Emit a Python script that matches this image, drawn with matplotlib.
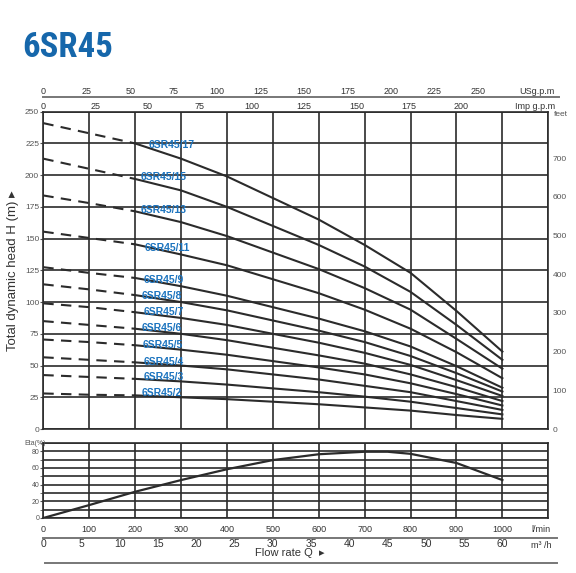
import matplotlib
matplotlib.use("Agg")
import matplotlib.pyplot as plt
import numpy as np

plt.rcParams['font.family'] = ['Liberation Sans', 'DejaVu Sans']

# flow rate points (l/min) where the heads were read
flow = [0, 100, 200, 300, 400, 500, 600, 700, 800, 900, 1000]

# head (m) for each model
models = ['6SR45/17', '6SR45/15', '6SR45/13', '6SR45/11', '6SR45/9', '6SR45/8',
          '6SR45/7', '6SR45/6', '6SR45/5', '6SR45/4', '6SR45/3', '6SR45/2']
heads = [
    [241, 233, 225, 213, 199, 182, 165, 145, 123, 93, 61],
    [213, 205, 197, 188, 175, 160, 145, 128, 108, 82, 54.5],
    [184, 178, 171.5, 163, 152, 139, 126, 111, 94, 71, 47.5],
    [155.5, 150.5, 145.5, 137.5, 129, 118, 107, 94, 79, 60.5, 40],
    [127.5, 123, 119, 112.5, 105, 96, 87, 77, 65, 49.5, 32.5],
    [114, 110, 105.5, 100, 93.5, 85.5, 77.5, 68.5, 57.5, 44, 29.5],
    [99, 96, 92, 87.5, 82, 75, 68, 60, 50.5, 38.5, 26],
    [85, 82, 79, 75, 70, 64, 58, 51.5, 43, 33, 22],
    [70.5, 68.5, 66, 62.5, 58.5, 53.5, 48.5, 43, 36, 27.5, 18.5],
    [56.5, 54.5, 52.5, 50, 47, 43, 39, 34, 29, 22, 15],
    [42.5, 41, 39.5, 37.5, 35, 32, 29, 25.5, 21.5, 16.5, 11.5],
    [28, 27, 26.5, 25, 23.5, 21.5, 19.5, 17, 14.5, 11, 8],
]
# where the model names sit (l/min, m)
label_q = [230, 212, 212, 221, 219, 214, 219, 214, 216, 218, 219, 214]
label_h = [224, 198.6, 172.4, 142.9, 117.5, 105, 92.5, 79.4, 66, 52.8, 41, 28]

# efficiency curve
eta_flow = [0, 100, 200, 300, 400, 500, 600, 700, 750, 800, 900, 1000]
eta = [0, 15.5, 31.5, 45.5, 58.5, 69.5, 76.5, 79.5, 79.5, 77, 66, 45.5]

head_ticks = list(range(0, 251, 25))
feet_ticks = list(range(0, 701, 100))
imp_ticks = list(range(0, 201, 25))
us_ticks = list(range(0, 251, 25))
lmin_ticks = list(range(0, 1001, 100))
m3h_ticks = list(range(0, 61, 5))
eta_ticks = list(range(0, 81, 20))

M_TO_FT = 3.28084
L_PER_IMP = 4.54609
L_PER_US = 3.78541
L_PER_M3H = 1000 / 60.0

dark = '#2b2b2b'
grey = '#555555'
blue = '#1c74bf'

fig = plt.figure(figsize=(5.76, 5.73), dpi=100)
W, H = 576.0, 573.0

# title
fig.text(22 / W, 1 - 57 / H, '6SR45', fontsize=25, fontweight='bold',
         color='#1667ab',
         family=['Roboto Condensed', 'Liberation Sans Narrow',
                 'Liberation Sans', 'DejaVu Sans'],
         va='baseline', ha='left')

# ---- main head chart ----
ax = fig.add_axes([43.3 / W, 1 - 429 / H, 505 / W, 317.3 / H])
ax.set_xlim(0, 1100)
ax.set_ylim(0, 250)
ax.set_xticks(range(0, 1101, 100))
ax.set_yticks(head_ticks)
ax.grid(True, color=dark, lw=1.2)
ax.tick_params(axis='x', length=0, labelbottom=False)
ax.tick_params(axis='y', length=2, labelsize=6, colors=grey, pad=1)
for s in ax.spines.values():
    s.set_color(dark)
    s.set_linewidth(1.2)

for name, h, lq, lh in zip(models, heads, label_q, label_h):
    ax.plot(flow[:3], h[:3], color=dark, lw=1.5, ls=(0, (5, 3.5)))
    ax.plot(flow[2:], h[2:], color=dark, lw=1.5)
    ax.text(lq, lh, name, color=blue, fontsize=7.5, fontweight='bold',
            ha='left', va='center')

ax.set_ylabel('Total dynamic head H (m) \u25b8', fontsize=9.5, color='#333333',
              labelpad=4)

# feet on the right
axr = ax.twinx()
axr.set_ylim(0, 250 * M_TO_FT)
axr.set_yticks(feet_ticks)
axr.tick_params(axis='y', length=0, labelsize=6, colors=grey, pad=3)
for s in axr.spines.values():
    s.set_visible(False)
ax.text(1.012, 0.99, 'feet', transform=ax.transAxes, fontsize=6, color=grey,
        ha='left', va='center')

# Imp g.p.m on top
imp = ax.secondary_xaxis('top', functions=(lambda q: q / L_PER_IMP,
                                           lambda g: g * L_PER_IMP))
imp.set_xticks(imp_ticks)
imp.tick_params(length=0, pad=0.5, labelsize=6.5, colors='#333333')
imp.spines['top'].set_visible(False)
ax.text(1.013, 1.003, 'Imp g.p.m', transform=ax.transAxes, fontsize=6.5,
        color='#333333', ha='right', va='bottom')

# US g.p.m above it
us = ax.secondary_xaxis(1.046, functions=(lambda q: q / L_PER_US,
                                          lambda g: g * L_PER_US))
us.set_xticks(us_ticks)
us.tick_params(length=0, pad=0.5, labelsize=6.5, colors='#333333')
us.spines['top'].set_visible(False)
ax.plot([0, 1.022], [1.046, 1.046], transform=ax.transAxes, clip_on=False,
        color='#777777', lw=1.4)
ax.text(1.013, 1.049, 'USg.p.m', transform=ax.transAxes, fontsize=6.5,
        color='#333333', ha='right', va='bottom')

# ---- efficiency chart ----
axe = fig.add_axes([43.3 / W, 1 - 518 / H, 505 / W, 75 / H])
axe.set_xlim(0, 1100)
axe.set_ylim(0, 90)
axe.set_xticks(lmin_ticks)
axe.set_xticks([1100], minor=True)
axe.set_yticks(eta_ticks)
axe.set_yticks(range(10, 91, 10), minor=True)
axe.grid(True, which='both', color=dark, lw=1.2)
axe.tick_params(axis='x', which='both', length=0, labelsize=6.5,
                colors='#333333', pad=5)
axe.tick_params(axis='y', which='both', length=2, labelsize=5, colors=grey,
                pad=1)
for s in axe.spines.values():
    s.set_color(dark)
    s.set_linewidth(1.2)
axe.plot(eta_flow, eta, color=dark, lw=1.6)
axe.text(0.005, 0.99, 'Eta(%)', transform=axe.transAxes, fontsize=5,
         color=grey, ha='right', va='center')
axe.text(0.9855, -0.16, 'l/min', transform=axe.transAxes, fontsize=6.5,
         color='#333333', ha='center', va='center')

# m3/h scale
m3 = axe.secondary_xaxis(-0.263, functions=(lambda q: q / L_PER_M3H,
                                            lambda m: m * L_PER_M3H))
m3.set_xticks(m3h_ticks)
m3.tick_params(length=0, pad=1, labelsize=7.5, colors='#333333')
m3.spines['bottom'].set_visible(False)
axe.plot([0, 1.017], [-0.263, -0.263], transform=axe.transAxes,
         clip_on=False, color='#777777', lw=1.4)
axe.text(0.9855, -0.36, 'm\u00b3 /h', transform=axe.transAxes, fontsize=6.5,
         color='#333333', ha='center', va='center')
axe.text(0.488, -0.47, 'Flow rate Q  \u25b8', transform=axe.transAxes,
         fontsize=8, color='#333333', ha='center', va='center')
axe.plot([0.003, 1.017], [-0.596, -0.596], transform=axe.transAxes,
         clip_on=False, color='#777777', lw=1.4)

fig.savefig('out.png', dpi=100)
